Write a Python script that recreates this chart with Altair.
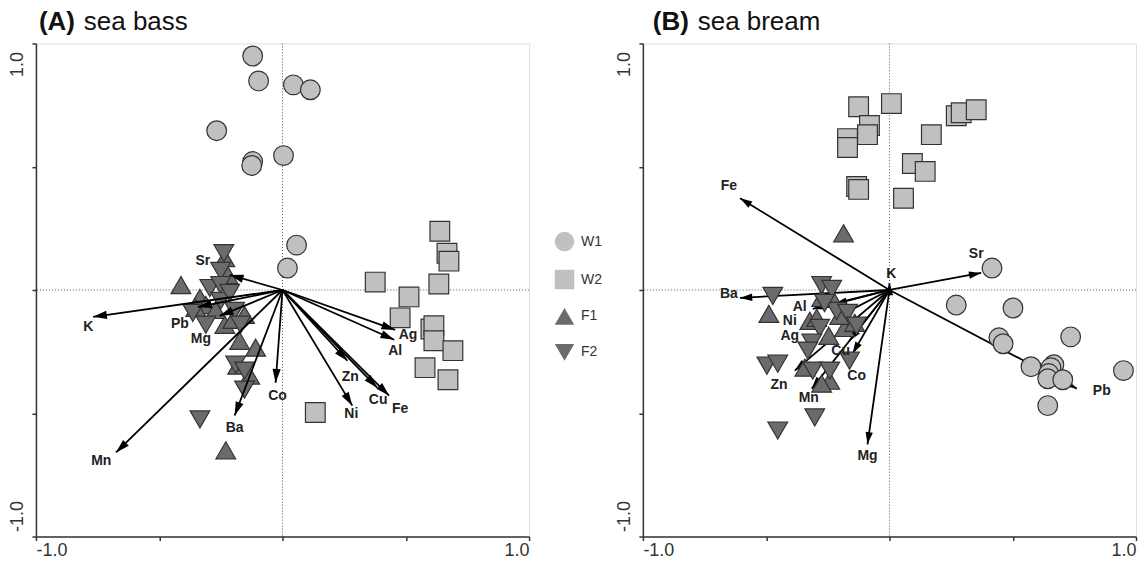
import altair as alt
import pandas as pd
import math

# ---------------- Panel A: sea bass ----------------
A_W1_x = [-0.121, -0.097, 0.044, 0.113, -0.267, -0.121, -0.125, 0.004, 0.057, 0.020]
A_W1_y = [0.949, 0.848, 0.832, 0.812, 0.646, 0.521, 0.505, 0.545, 0.182, 0.089]
A_W2_x = [0.638, 0.667, 0.675, 0.634, 0.376, 0.513, 0.477, 0.602, 0.614, 0.614, 0.691, 0.578, 0.671, 0.133]
A_W2_y = [0.238, 0.149, 0.117, 0.024, 0.032, -0.028, -0.113, -0.158, -0.145, -0.206, -0.246, -0.315, -0.364, -0.497]
A_F1_x = [-0.412, -0.222, -0.234, -0.335, -0.311, -0.271, -0.234, -0.174, -0.109, -0.133, -0.202, -0.352, -0.230, -0.182, -0.154]
A_F1_y = [0.020, 0.061, 0.129, -0.032, -0.061, -0.081, -0.141, -0.206, -0.234, -0.347, -0.121, -0.073, -0.650, -0.307, -0.101]
A_F2_x = [-0.238, -0.251, -0.295, -0.251, -0.251, -0.364, -0.311, -0.194, -0.170, -0.190, -0.154, -0.154, -0.335, -0.214]
A_F2_y = [0.149, 0.077, 0.008, 0.020, -0.044, -0.093, -0.141, -0.085, -0.141, -0.303, -0.327, -0.404, -0.525, -0.012]

A_var = ["K", "Sr", "Pb", "Mg", "Mn", "Ba", "Co", "Ni", "Zn", "Cu", "Fe", "Ag", "Al"]
A_var_x = [-0.768, -0.214, -0.343, -0.255, -0.675, -0.194, -0.028, 0.283, 0.263, 0.384, 0.432, 0.457, 0.453]
A_var_y = [-0.109, 0.061, -0.069, -0.105, -0.659, -0.509, -0.376, -0.469, -0.287, -0.396, -0.428, -0.162, -0.202]
A_lab_x = [-0.788, -0.323, -0.416, -0.331, -0.735, -0.194, -0.020, 0.279, 0.275, 0.388, 0.477, 0.509, 0.457]
A_lab_y = [-0.149, 0.117, -0.137, -0.198, -0.695, -0.558, -0.428, -0.505, -0.352, -0.448, -0.481, -0.182, -0.246]

# ---------------- Panel B: sea bream ----------------
B_W1_x = [0.416, 0.271, 0.501, 0.444, 0.461, 0.735, 0.574, 0.667, 0.655, 0.646, 0.642, 0.703, 0.949, 0.642]
B_W1_y = [0.089, -0.061, -0.073, -0.194, -0.218, -0.190, -0.311, -0.303, -0.315, -0.339, -0.360, -0.364, -0.327, -0.469]
B_W2_x = [-0.125, 0.008, -0.081, -0.089, -0.170, -0.170, -0.133, -0.125, 0.170, 0.093, 0.145, 0.057, 0.271, 0.291, 0.352]
B_W2_y = [0.743, 0.756, 0.667, 0.630, 0.614, 0.578, 0.420, 0.408, 0.630, 0.513, 0.481, 0.372, 0.707, 0.719, 0.731]
B_F1_x = [-0.186, -0.489, -0.275, -0.230, -0.323, -0.295, -0.182, -0.246, -0.343, -0.242, -0.275, -0.202, -0.141]
B_F1_y = [0.230, -0.097, -0.032, -0.036, -0.125, -0.113, -0.154, -0.186, -0.315, -0.368, -0.380, -0.105, -0.133]
B_F2_x = [-0.473, -0.275, -0.234, -0.214, -0.170, -0.283, -0.133, -0.315, -0.331, -0.497, -0.453, -0.311, -0.242, -0.162, -0.303, -0.453, -0.263]
B_F2_y = [-0.024, 0.020, 0.004, -0.085, -0.093, -0.154, -0.145, -0.214, -0.246, -0.307, -0.299, -0.327, -0.327, -0.287, -0.517, -0.570, -0.053]

B_var = ["Fe", "Ba", "Sr", "Pb", "Mg", "K", "Al", "Ni", "Ag", "Cu", "Co", "Zn", "Mn"]
B_var_x = [-0.606, -0.606, 0.372, 0.760, -0.089, 0.000, -0.311, -0.222, -0.202, -0.162, -0.150, -0.384, -0.315]
B_var_y = [0.372, -0.032, 0.069, -0.400, -0.626, 0.028, -0.077, -0.057, -0.105, -0.206, -0.259, -0.327, -0.400]
B_lab_x = [-0.651, -0.651, 0.352, 0.861, -0.089, 0.008, -0.364, -0.404, -0.404, -0.198, -0.133, -0.448, -0.327]
B_lab_y = [0.420, -0.016, 0.145, -0.408, -0.675, 0.065, -0.069, -0.125, -0.186, -0.246, -0.347, -0.384, -0.440]

GROUPS = ["W1", "W2", "F1", "F2"]
SHAPES = ["circle", "square", "triangle-up", "triangle-down"]
FILLS = ["#c0c0c0", "#c0c0c0", "#6b6b6b", "#6b6b6b"]
FONT = "Liberation Sans"
HEAD = "M0,0L-0.3,1L0.3,1Z"
W = 494
H = 494


def points_df(groups):
    rows = []
    for g, (xs, ys) in groups.items():
        for x, y in zip(xs, ys):
            rows.append({"x": x, "y": y, "group": g})
    return pd.DataFrame(rows)


def arrows_df(names, xs, ys, lxs, lys):
    df = pd.DataFrame({"name": names, "x": xs, "y": ys, "lx": lxs, "ly": lys})
    # screen rotation of the arrow head (x right, y up)
    df["ang"] = [(math.degrees(math.atan2(a, b * H / W)) + 360) % 360 for a, b in zip(xs, ys)]
    return df


def panel(pts, arr, tag, name, tag_dx, name_dx, show_legend, arrows_on_top, head_size):
    xs = alt.Scale(domain=[-1, 1], nice=False, zero=False)
    ys = alt.Scale(domain=[-1, 1], nice=False, zero=False)
    lab = "datum.value == 1 ? '1.0' : datum.value == -1 ? '-1.0' : ''"
    xaxis = alt.Axis(values=[-1, -0.5, 0, 0.5, 1], labelExpr=lab, title=None, grid=False,
                     labelFlush=True, labelFontSize=18, labelFont=FONT, labelColor="#333",
                     tickSize=4, labelPadding=1, domainColor="#333", tickColor="#333",
                     domainWidth=1.5, tickWidth=1.5)
    yaxis = alt.Axis(values=[-1, -0.5, 0, 0.5, 1], labelExpr=lab, title=None, grid=False,
                     labelAngle=270, labelFontSize=18, labelFont=FONT, labelColor="#333",
                     labelAlign={"condition": {"test": "datum.value > 0", "value": "right"}, "value": "left"},
                     labelBaseline="bottom",
                     labelOffset={"condition": {"test": "datum.value > 0", "value": 8}, "value": -5},
                     tickSize=4, labelPadding=5, domainColor="#333", tickColor="#333",
                     domainWidth=1.5, tickWidth=1.5)

    base_pts = alt.Chart(pts)
    legend = alt.Legend(orient="none", legendX=519, legendY=188, title=None, symbolSize=380,
                        labelFontSize=14, labelFont=FONT, labelColor="#333", rowPadding=13,
                        symbolStrokeColor="#333", symbolStrokeWidth=1.2, labelOffset=6,
                        padding=0) if show_legend else None
    points = base_pts.mark_point(filled=True, size=390, stroke="#333", strokeWidth=1.2, opacity=1).encode(
        x=alt.X("x:Q", scale=xs, axis=xaxis),
        y=alt.Y("y:Q", scale=ys, axis=yaxis),
        shape=alt.Shape("group:N", scale=alt.Scale(domain=GROUPS, range=SHAPES), legend=legend),
        fill=alt.Fill("group:N", scale=alt.Scale(domain=GROUPS, range=FILLS), legend=legend),
    )

    zero_df = pd.DataFrame({"o": [0]})
    vline = alt.Chart(zero_df).mark_rule(color="#555", strokeDash=[1, 2], strokeWidth=1).encode(x=alt.datum(0))
    hline = alt.Chart(zero_df).mark_rule(color="#555", strokeDash=[1, 2], strokeWidth=1).encode(y=alt.datum(0))

    base_arr = alt.Chart(arr).transform_calculate(o="0")
    shafts = base_arr.mark_rule(color="black", strokeWidth=1.8).encode(
        x="o:Q", y="o:Q", x2="x:Q", y2="y:Q")
    heads = base_arr.mark_point(shape=HEAD, filled=True, color="black", size=head_size, opacity=1).encode(
        x="x:Q", y="y:Q", angle=alt.Angle("ang:Q", scale=None))
    labels = base_arr.mark_text(fontWeight="bold", fontSize=14, font=FONT, color="#222",
                                align="center", baseline="middle").encode(
        x="lx:Q", y="ly:Q", text="name:N")

    tdf = pd.DataFrame({"t": [tag], "n": [name]})
    t1 = alt.Chart(tdf).mark_text(fontWeight="bold", fontSize=26, font=FONT, color="#111",
                                  align="left", baseline="alphabetic").encode(
        text="t:N", x=alt.value(tag_dx), y=alt.value(-13))
    t2 = alt.Chart(tdf).mark_text(fontSize=26, font=FONT, color="#111",
                                  align="left", baseline="alphabetic").encode(
        text="n:N", x=alt.value(name_dx), y=alt.value(-13))

    if arrows_on_top:
        layers = [vline, hline, points, shafts, heads, labels, t1, t2]
    else:
        layers = [vline, hline, shafts, heads, points, labels, t1, t2]
    return alt.layer(*layers).properties(width=W, height=H)


ptsA = points_df({"W1": (A_W1_x, A_W1_y), "W2": (A_W2_x, A_W2_y),
                  "F1": (A_F1_x, A_F1_y), "F2": (A_F2_x, A_F2_y)})
ptsB = points_df({"W1": (B_W1_x, B_W1_y), "W2": (B_W2_x, B_W2_y),
                  "F1": (B_F1_x, B_F1_y), "F2": (B_F2_x, B_F2_y)})
arrA = arrows_df(A_var, A_var_x, A_var_y, A_lab_x, A_lab_y)
arrB = arrows_df(B_var, B_var_x, B_var_y, B_lab_x, B_lab_y)

left = panel(ptsA, arrA, "(A)", "sea bass", 3, 48, True, True, 760)
right = panel(ptsB, arrB, "(B)", "sea bream", 10, 55, False, False, 600)

chart = alt.hconcat(left, right, spacing=114, bounds="flush").resolve_legend(
    fill="independent", shape="independent").resolve_scale(
    fill="independent", shape="independent").properties(
    padding={"left": 0, "top": 0, "right": 0, "bottom": 0}).configure_view(
    stroke="#333", strokeWidth=1.5).configure(background="white")

chart.save("out.html", embed_options={"renderer": "svg", "actions": False})
